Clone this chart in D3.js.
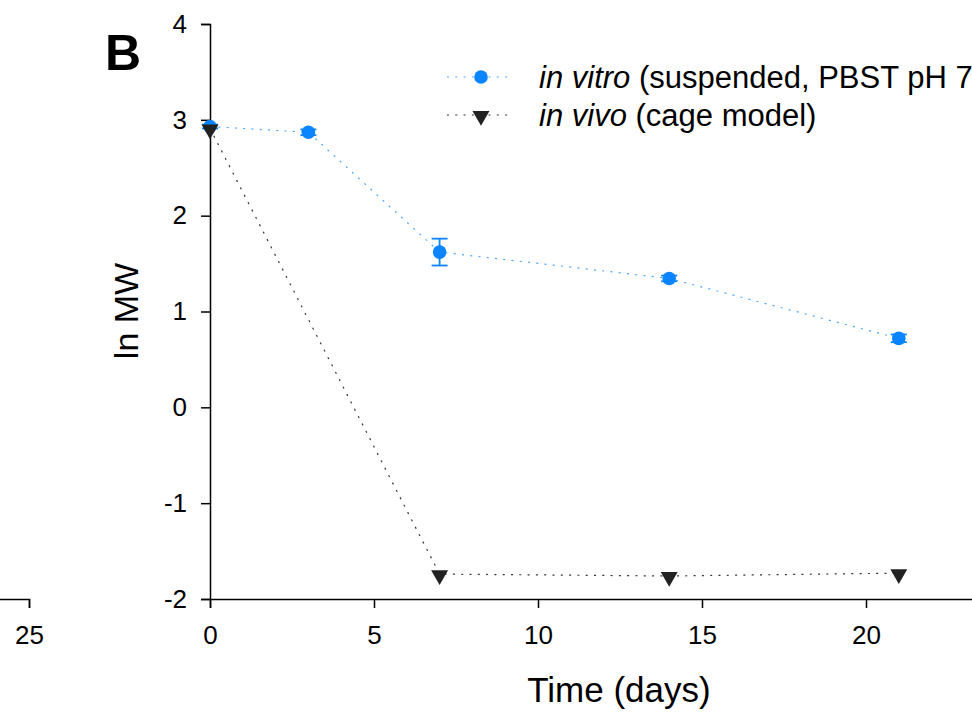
<!DOCTYPE html>
<html><head><meta charset="utf-8">
<script src="https://cdn.jsdelivr.net/npm/d3@7/dist/d3.min.js"></script>
<style>body{margin:0;background:#fff}svg{display:block;font-family:Arial,"Liberation Sans",sans-serif}</style>
</head><body>
<script>
const days = [0, 3, 7, 14, 21];
const vitroMW = [2.93, 2.87, 1.62, 1.345, 0.72];
const vitroErr = [0.02, 0.03, 0.14, 0.03, 0.04];
const vivoDays = [0, 7, 14, 21];
const vivoMW = [2.91, -1.74, -1.76, -1.73];
const xTicks = [0, 5, 10, 15, 20, 25];
const yTicks = [-2, -1, 0, 1, 2, 3, 4];
const legendLabels = [["in vitro", " (suspended, PBST pH 7.4)"], ["in vivo", " (cage model)"]];

const W = 972, H = 718;
const FONT = "Arial, 'Liberation Sans', sans-serif";
const svg = d3.select("body").append("svg").attr("width", W).attr("height", H);
const x = d3.scaleLinear().domain([0, 25]).range([210, 1030]);
const y = d3.scaleLinear().domain([-2, 4]).range([599, 24]);
const blue = "#0a84ff", lineBlue = "#4da6ff", dark = "#222";
const dots = "2,6.3";
const fmt = d => String(d).replace("\u2212", "-");

function styleAxis(g) {
  g.attr("font-size", 26).attr("font-family", FONT);
  g.selectAll("text").attr("fill", "#000");
  g.selectAll("path,line").attr("stroke", "#000").attr("stroke-width", 1.5);
}

// fragment of panel A's x axis
const xA = d3.scaleLinear().domain([0, 25]).range([29 - 820, 29]);
svg.append("g").attr("transform", "translate(0,599)")
  .call(d3.axisBottom(xA).tickValues([25]).tickFormat(fmt).tickSizeOuter(0).tickSize(9).tickPadding(18))
  .call(styleAxis);

svg.append("g").attr("transform", "translate(0,599)")
  .call(d3.axisBottom(x).tickValues(xTicks).tickFormat(fmt).tickSizeOuter(0).tickSize(9).tickPadding(18))
  .call(styleAxis);

svg.append("g").attr("transform", "translate(210,0)")
  .call(d3.axisLeft(y).tickValues(yTicks).tickFormat(fmt).tickSizeOuter(0).tickSize(9).tickPadding(14))
  .call(styleAxis);

svg.append("text").attr("transform", "translate(138,311) rotate(-90)")
  .attr("text-anchor", "middle").attr("font-size", 34).text("ln MW");
svg.append("text").attr("x", 619).attr("y", 702).attr("text-anchor", "middle")
  .attr("font-size", 35).text("Time (days)");
svg.append("text").attr("x", 105).attr("y", 70).attr("font-size", 50).attr("font-weight", "bold").text("B");

// lines
const vitro = days.map((d, i) => ({d, v: vitroMW[i], e: vitroErr[i]}));
const vivo = vivoDays.map((d, i) => ({d, v: vivoMW[i]}));
const line = d3.line().x(p => x(p.d)).y(p => y(p.v));
svg.append("path").datum(vitro).attr("d", line).attr("fill", "none")
  .attr("stroke", lineBlue).attr("stroke-width", 1.2).attr("stroke-dasharray", dots);
svg.append("path").datum(vivo).attr("d", line).attr("fill", "none")
  .attr("stroke", "#333").attr("stroke-width", 1.2).attr("stroke-dasharray", dots);

// error bars
const eb = svg.append("g").attr("stroke", blue).attr("stroke-width", 1.8);
vitro.forEach(p => {
  eb.append("line").attr("x1", x(p.d)).attr("x2", x(p.d)).attr("y1", y(p.v - p.e)).attr("y2", y(p.v + p.e));
  [p.v - p.e, p.v + p.e].forEach(v => eb.append("line").attr("x1", x(p.d) - 8).attr("x2", x(p.d) + 8).attr("y1", y(v)).attr("y2", y(v)));
});

const tri = d3.symbol().type(d3.symbolTriangle).size(125);
svg.append("g").selectAll("circle").data(vitro).join("circle")
  .attr("cx", p => x(p.d)).attr("cy", p => y(p.v)).attr("r", 6.8).attr("fill", blue);
svg.append("g").selectAll("path").data(vivo).join("path")
  .attr("d", tri).attr("fill", dark)
  .attr("transform", p => `translate(${x(p.d)},${y(p.v) + 1}) rotate(180)`);

// legend
const lg = svg.append("g");
legendLabels.forEach((lab, i) => {
  const ly = 77 + i * 38;
  lg.append("line").attr("x1", 447).attr("x2", 513).attr("y1", ly).attr("y2", ly)
    .attr("stroke", i === 0 ? lineBlue : "#333").attr("stroke-width", 1.2).attr("stroke-dasharray", dots);
  if (i === 0) lg.append("circle").attr("cx", 481).attr("cy", ly).attr("r", 6.8).attr("fill", blue);
  else lg.append("path").attr("d", tri).attr("fill", dark).attr("transform", `translate(481,${ly + 1}) rotate(180)`);
  const t = lg.append("text").attr("x", 539).attr("y", ly + 11).attr("font-size", 31);
  t.append("tspan").attr("font-style", "italic").text(lab[0]);
  t.append("tspan").text(lab[1]);
});
</script>
</body></html>
